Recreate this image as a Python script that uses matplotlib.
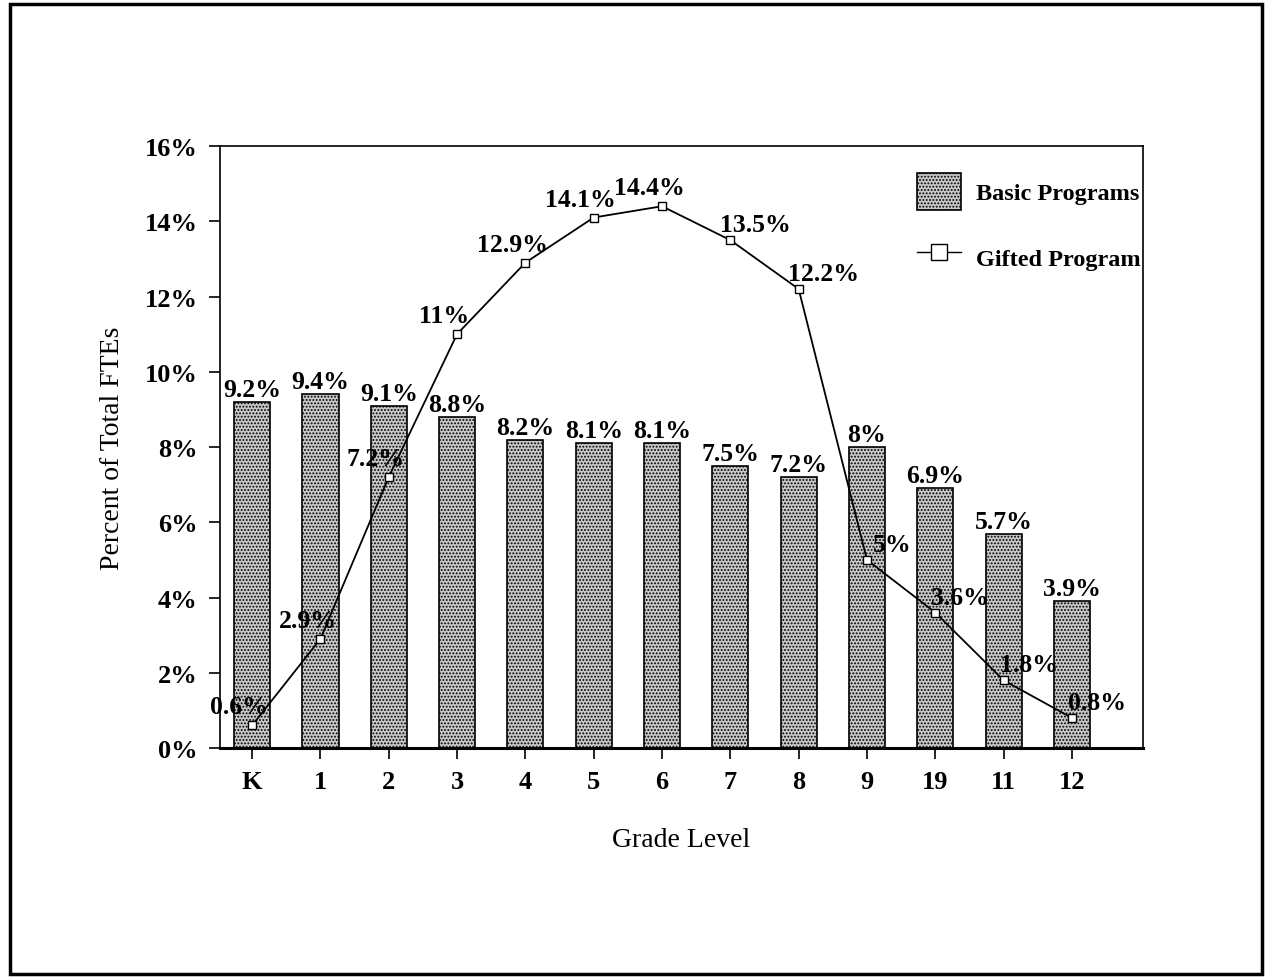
import matplotlib
matplotlib.use("Agg")
import matplotlib.pyplot as plt
import numpy as np
from matplotlib.patches import Rectangle
from matplotlib.lines import Line2D
from matplotlib.ticker import PercentFormatter

grades = ["K", "1", "2", "3", "4", "5", "6", "7", "8", "9", "19", "11", "12"]
basic = [9.2, 9.4, 9.1, 8.8, 8.2, 8.1, 8.1, 7.5, 7.2, 8, 6.9, 5.7, 3.9]
gifted = [0.6, 2.9, 7.2, 11, 12.9, 14.1, 14.4, 13.5, 12.2, 5, 3.6, 1.8, 0.8]

plt.rcParams["font.family"] = ["Liberation Serif", "DejaVu Serif"]
plt.rcParams["hatch.linewidth"] = 0.9

fig = plt.figure(figsize=(12.7, 9.79), dpi=100)
fig.patches.append(Rectangle((10 / 1270, 1 - 975 / 979), 1252 / 1270, 970 / 979,
                             transform=fig.transFigure, fill=False, lw=2.5, ec="black"))
ax = fig.add_axes([0.1732, 0.2349, 0.7268, 0.6149])

x = np.arange(len(grades))
ax.bar(x, basic, width=0.53, facecolor="#c8c8c8", edgecolor="black",
       hatch=".....", linewidth=1.2, zorder=2)
for xi, v in zip(x, basic):
    ax.annotate(f"{v:g}%", (xi, v), xytext=(0, 6), textcoords="offset pixels",
                ha="center", va="baseline", fontsize=18.5, fontweight="bold", zorder=5)

ax.plot(x, gifted, color="black", lw=1.3, marker="s", ms=5.5, mfc="white",
        mec="black", mew=1, zorder=4)
for i, (xi, v) in enumerate(zip(x, gifted)):
    off = (-13, 12) if i <= 6 else (25, 9)
    ax.annotate(f"{v:g}%", (xi, v), xytext=off, textcoords="offset pixels",
                ha="center", va="baseline", fontsize=18.5, fontweight="bold", zorder=5)

ax.set_xlim(-0.47, 13.04)
ax.set_ylim(0, 16)
ax.set_yticks(np.arange(0, 17, 2))
ax.yaxis.set_major_formatter(PercentFormatter(decimals=0))
ax.set_xticks(x)
ax.set_xticklabels(grades)
ax.tick_params(axis="both", direction="out", length=8, width=1.2, labelsize=19, pad=8)
for lab in ax.get_xticklabels() + ax.get_yticklabels():
    lab.set_fontweight("bold")
for s in ax.spines.values():
    s.set_linewidth(1.2)
ax.spines["bottom"].set_linewidth(2.2)

ax.set_xlabel("Grade Level", fontsize=20, labelpad=24)
ax.set_ylabel("Percent of Total FTEs", fontsize=20, labelpad=14)

handles = [Rectangle((0, 0), 1, 1, facecolor="#c8c8c8", edgecolor="black", hatch=".....", lw=1.2),
           Line2D([], [], color="black", lw=1, marker="s", ms=12, mfc="white", mec="black")]
ax.legend(handles, ["Basic Programs", "Gifted Program"], loc="upper right",
          bbox_to_anchor=(0.997, 0.955), frameon=False,
          prop={"weight": "bold", "size": 17.5},
          handlelength=1.8, handleheight=1.95, labelspacing=1.2,
          borderaxespad=0, handletextpad=0.6, borderpad=0)

fig.savefig("out.png", dpi=100)
